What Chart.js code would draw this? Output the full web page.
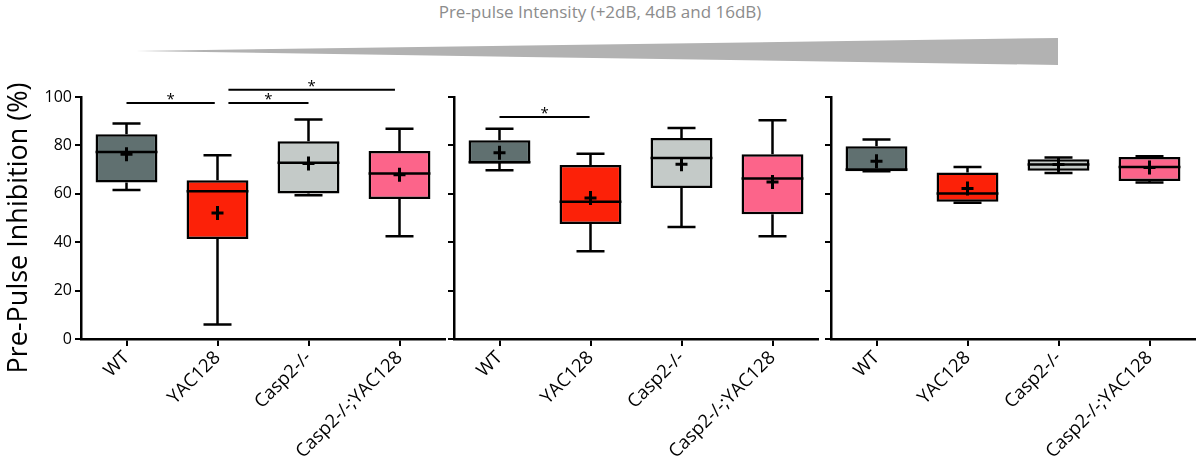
<!DOCTYPE html>
<html>
<head>
<meta charset="utf-8">
<script src="https://cdn.jsdelivr.net/npm/chart.js@4.4.1/dist/chart.umd.min.js"></script>
<style>
  body { margin: 0; background: #fff; }
  #wrap { position: relative; width: 1200px; height: 463px; overflow: hidden; }
  canvas { position: absolute; top: 0; }
  #title { position: absolute; left: 0; width: 1200px; top: 0px; text-align: center;
           font-family: "Liberation Sans Narrow", "Open Sans", sans-serif; font-size: 17px; color: #8c8c8c; }
  #wedge { position: absolute; left: 136px; top: 38px; width: 922px; height: 27px;
           background: #b2b2b2; clip-path: polygon(0 13px, 100% 0, 100% 100%); }
</style>
</head>
<body>
<div id="wrap">
  <div id="title">Pre-pulse Intensity (+2dB, 4dB and 16dB)</div>
  <div id="wedge"></div>
  <canvas id="panel1" width="450" height="463" style="left:0px"></canvas>
  <canvas id="panel2" width="377" height="463" style="left:446px"></canvas>
  <canvas id="panel3" width="377" height="463" style="left:823px"></canvas>
</div>
<script>
// Kategori dan sumbu
const categories = ['WT', 'YAC128', 'Casp2-/-', 'Casp2-/-;YAC128'];
const yTicks = [0, 20, 40, 60, 80, 100];
const yTitle = 'Pre-Pulse Inhibition (%)';
const boxColors = ['#607070', '#fc2108', '#c4cac8', '#fc648a'];

// Panel 1 (+2dB)
const p1Min = [61.6, 6.0, 59.4, 42.5];
const p1Q1 = [64.7, 41.3, 60.1, 57.8];
const p1Median = [77.3, 61.1, 72.8, 68.4];
const p1Q3 = [84.6, 65.6, 81.7, 77.7];
const p1Max = [89.0, 75.9, 90.7, 86.9];
const p1Mean = [76.3, 52.1, 72.5, 67.9];
const p1Sig = [[0, 0.97, 97.5], [1.12, 2, 97.5], [1.12, 2.95, 103]];

// Panel 2 (4dB)
const p2Min = [69.7, 36.3, 46.3, 42.5];
const p2Q1 = [72.5, 47.5, 62.4, 51.5];
const p2Median = [73.0, 56.7, 74.8, 66.3];
const p2Q3 = [82.1, 71.9, 83.1, 76.3];
const p2Max = [86.9, 76.6, 87.2, 90.4];
const p2Mean = [77.0, 58.3, 72.2, 64.9];
const p2Sig = [[0, 0.99, 91.7]];

// Panel 3 (16dB)
const p3Min = [69.3, 56.3, 68.6, 64.7];
const p3Q1 = [69.3, 56.7, 69.5, 65.3];
const p3Median = [70.0, 60.1, 72.1, 71.1];
const p3Q3 = [79.6, 68.8, 74.3, 75.2];
const p3Max = [82.4, 71.1, 75.0, 75.5];
const p3Mean = [73.5, 62.2, 72.1, 70.9];
const p3Sig = [];

// Plugin untuk whisker, median, mean dan tanda signifikansi
const boxExtras = {
  id: 'boxExtras',
  afterDatasetsDraw(chart, args, opts) {
    const ctx = chart.ctx;
    const xs = chart.scales.x, ys = chart.scales.y;
    const meta = chart.getDatasetMeta(0);
    ctx.save();
    ctx.strokeStyle = '#000';
    ctx.lineCap = 'butt';
    categories.forEach((c, i) => {
      const x = xs.getPixelForValue(i);
      const w = meta.data[i].width;
      const cap = 14;
      const yMin = ys.getPixelForValue(opts.min[i]);
      const yQ1 = ys.getPixelForValue(opts.q1[i]);
      const yQ3 = ys.getPixelForValue(opts.q3[i]);
      const yMax = ys.getPixelForValue(opts.max[i]);
      const yMed = ys.getPixelForValue(opts.median[i]);
      const yMean = ys.getPixelForValue(opts.mean[i]);
      ctx.lineWidth = 2.5;
      ctx.beginPath();
      ctx.moveTo(x, yQ3); ctx.lineTo(x, yMax);
      ctx.moveTo(x - cap, yMax); ctx.lineTo(x + cap, yMax);
      ctx.moveTo(x, yQ1); ctx.lineTo(x, yMin);
      ctx.moveTo(x - cap, yMin); ctx.lineTo(x + cap, yMin);
      ctx.moveTo(x - w / 2, yMed); ctx.lineTo(x + w / 2, yMed);
      ctx.stroke();
      ctx.lineWidth = 3;
      ctx.beginPath();
      ctx.moveTo(x - 6, yMean); ctx.lineTo(x + 6, yMean);
      ctx.moveTo(x, yMean - 7); ctx.lineTo(x, yMean + 7);
      ctx.stroke();
    });
    // garis signifikansi
    const px = v => {
      const a = Math.floor(v), f = v - a;
      const pa = xs.getPixelForValue(a);
      return f ? pa + f * (xs.getPixelForValue(a + 1) - pa) : pa;
    };
    ctx.lineWidth = 2;
    ctx.fillStyle = '#000';
    ctx.font = '15px "Open Sans", sans-serif';
    ctx.textAlign = 'center';
    ctx.textBaseline = 'middle';
    opts.sig.forEach(s => {
      const x1 = px(s[0]), x2 = px(s[1]), y = ys.getPixelForValue(s[2]);
      ctx.beginPath();
      ctx.moveTo(x1, y); ctx.lineTo(x2, y);
      ctx.stroke();
      ctx.fillText('*', (x1 + x2) / 2, y - 3);
    });
    // judul sumbu y (hanya panel pertama)
    if (opts.title) {
      ctx.translate(19, 228);
      ctx.rotate(-Math.PI / 2);
      ctx.font = '27px "Open Sans", sans-serif';
      ctx.fillText(opts.title, 0, 0);
    }
    ctx.restore();
  }
};

function makePanel(id, q1, q3, min, median, max, mean, sig, first) {
  const data = q1.map((v, i) => [v, q3[i]]);
  return new Chart(document.getElementById(id), {
    type: 'bar',
    data: {
      labels: categories,
      datasets: [{
        data: data,
        backgroundColor: boxColors,
        borderColor: '#000',
        borderWidth: 2.5,
        borderSkipped: false,
        categoryPercentage: 1,
        barPercentage: 0.68,
      }]
    },
    options: {
      responsive: false,
      animation: false,
      layout: { padding: { left: 0, right: 5, top: 97, bottom: 0 } },
      plugins: {
        legend: { display: false },
        tooltip: { enabled: false },
        boxExtras: { min, q1, q3, median, max, mean, sig, title: first ? yTitle : '' },
      },
      scales: {
        x: {
          grid: { drawOnChartArea: false, offset: false, color: '#000', lineWidth: 2, tickLength: 7 },
          border: { color: '#000', width: 2.5 },
          ticks: {
            color: '#000', minRotation: 45, maxRotation: 45, padding: 1,
            font: { family: '"Open Sans", sans-serif', size: 18.5 },
          },
          afterFit(s) { s.height = 124; s.paddingLeft = 0; s.paddingRight = 0; },
        },
        y: {
          min: 0, max: 100,
          afterBuildTicks(s) { s.ticks = yTicks.map(v => ({ value: v })); },
          grid: { drawOnChartArea: false, color: '#000', lineWidth: 2, tickLength: 6 },
          border: { color: '#000', width: 2.5 },
          ticks: {
            color: '#000', padding: 3,
            font: { family: '"Open Sans", sans-serif', size: 16 },
            callback: v => first ? v : '',
          },
          afterFit(s) { s.width = first ? 81 : 8; },
        }
      }
    },
    plugins: [boxExtras]
  });
}

makePanel('panel1', p1Q1, p1Q3, p1Min, p1Median, p1Max, p1Mean, p1Sig, true);
makePanel('panel2', p2Q1, p2Q3, p2Min, p2Median, p2Max, p2Mean, p2Sig, false);
makePanel('panel3', p3Q1, p3Q3, p3Min, p3Median, p3Max, p3Mean, p3Sig, false);
</script>
</body>
</html>
